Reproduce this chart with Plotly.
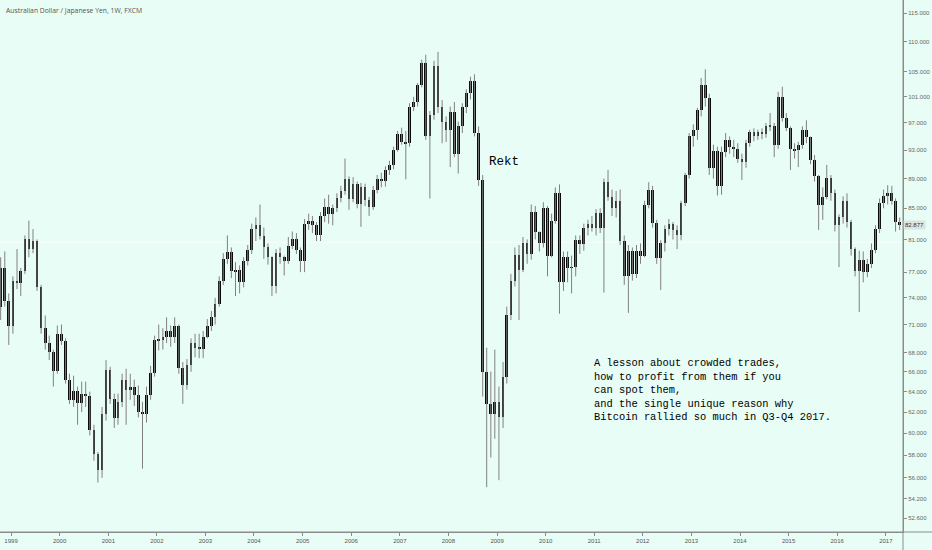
import math
import plotly.graph_objects as go

# ---- data (monthly candles), AUD/JPY ----
start_year, start_month = 1998, 10
first_open = 73.0

close = [
    77.5, 73.6, 70.8,
    76.0, 75.7, 77.1, 81.1, 79.8, 80.8, 75.2, 70.6, 69.0, 68.0, 66.1, 70.0,
    69.2, 65.2, 63.2, 64.1, 62.9, 63.8, 63.6, 60.3, 58.1, 56.7, 61.8, 66.2,
    63.3, 61.4, 63.0, 65.2, 64.2, 64.5, 63.7, 62.0, 61.8, 63.7, 65.9, 69.3,
    69.4, 69.6, 70.3, 69.6, 70.8, 66.4, 64.7, 66.7, 69.0, 68.5, 68.4, 69.7,
    70.8, 71.8, 73.3, 76.0, 78.6, 79.5, 77.1, 77.2, 75.8, 78.4, 79.7, 82.3,
    82.8, 81.4, 80.0, 78.8, 75.4, 79.3, 78.8, 78.3, 80.2, 81.1, 79.7, 78.4,
    83.0, 83.3, 82.8, 81.6, 84.0, 85.2, 84.2, 85.0, 86.3, 87.3, 89.0, 86.2,
    88.2, 85.6, 87.8, 86.1, 85.2, 87.5, 88.9, 88.7, 90.2, 90.9, 93.0, 95.3,
    94.2, 94.0, 99.5, 100.2, 102.8, 106.5, 95.0, 98.2, 106.0, 99.5, 97.1, 96.0,
    98.7, 92.5, 96.6, 99.4, 101.6, 103.5, 95.5, 88.8, 66.0, 62.8, 61.8, 63.0,
    61.5, 65.5, 72.1, 76.0, 79.1, 77.2, 80.5, 79.2, 84.5, 82.0, 80.6, 85.0,
    79.0, 83.3, 87.0, 75.8, 78.8, 77.5, 77.6, 80.9, 80.4, 82.5, 82.9, 82.5,
    84.4, 82.5, 88.5, 86.5, 85.0, 85.9, 80.8, 76.5, 79.6, 76.8, 79.6, 79.0,
    85.4, 87.4, 83.1, 78.7, 80.6, 82.3, 82.9, 82.2, 81.5, 85.7, 89.5, 95.0,
    95.9, 98.9, 102.8, 100.8, 90.5, 92.9, 88.0, 92.8, 94.5, 93.5, 93.2, 91.8,
    91.3, 94.0, 95.6, 95.1, 95.7, 95.4, 96.6, 96.5, 93.7, 101.0, 97.7, 96.2,
    93.1, 93.0, 93.7, 95.9, 94.9, 91.6, 89.3, 85.4, 86.5, 89.1, 87.1, 82.8,
    83.9, 86.0, 83.2, 79.8, 77.1, 78.5, 77.0, 78.0, 79.7, 82.3, 85.7, 86.6,
    87.1, 85.9, 83.2, 82.877,
]
high = [
    78.8, 79.5, 74.5,
    76.5, 79.8, 77.5, 81.5, 83.4, 82.3, 81.0, 75.5, 72.0, 69.8, 68.3, 70.9,
    71.0, 69.5, 65.8, 65.6, 64.5, 65.0, 65.0, 64.0, 60.8, 58.3, 62.5, 67.2,
    66.5, 63.8, 63.8, 65.8, 66.3, 65.8, 65.2, 64.6, 63.0, 64.5, 66.6, 69.8,
    71.0, 70.6, 71.8, 70.9, 71.8, 71.0, 67.0, 67.3, 69.5, 70.0, 70.0, 70.3,
    71.6, 72.5, 74.0, 76.5, 79.3, 81.5, 80.0, 78.2, 77.8, 78.8, 80.3, 83.0,
    83.8, 85.5, 82.5, 80.5, 78.9, 79.8, 80.0, 79.0, 81.3, 82.0, 81.8, 80.0,
    83.6, 84.3, 84.0, 83.2, 84.5, 86.3, 86.8, 85.5, 87.0, 88.0, 91.8, 89.3,
    89.2, 88.6, 88.4, 88.3, 86.5, 88.0, 89.5, 89.8, 90.7, 91.5, 93.5, 95.8,
    96.3, 95.8, 100.0, 101.0, 103.2, 107.0, 107.8, 98.8, 106.8, 108.3, 100.5, 98.0,
    99.5, 100.2, 97.2, 100.0, 102.2, 104.2, 104.6, 96.5, 89.5, 68.5, 66.0, 68.3,
    64.5, 67.0, 73.0, 76.8, 80.0, 80.3, 81.3, 81.0, 85.5, 85.3, 82.0, 85.8,
    85.3, 84.3, 87.8, 88.2, 79.5, 79.5, 79.0, 81.5, 81.5, 83.0, 83.5, 84.0,
    84.9, 85.0, 89.0, 90.2, 87.5, 87.3, 87.5, 81.5, 80.3, 80.0, 80.3, 80.5,
    86.0, 88.5, 88.0, 83.5, 80.9, 82.8, 83.6, 83.2, 82.8, 86.0, 89.8, 95.5,
    96.8, 99.3, 104.0, 105.4, 101.5, 93.8, 93.5, 93.5, 95.5, 95.0, 94.5, 94.0,
    92.5, 94.5, 96.0, 96.2, 96.0, 96.2, 97.0, 98.5, 97.0, 101.8, 102.6, 98.5,
    96.5, 94.0, 94.2, 96.5, 97.4, 95.0, 92.3, 89.5, 87.8, 90.9, 89.5, 87.5,
    84.2, 86.6, 87.0, 83.5, 80.0, 79.6, 79.5, 78.6, 80.5, 82.8, 86.3, 87.5,
    88.1, 88.0, 86.3, 83.8,
]
low = [
    71.5, 73.0, 68.8,
    70.0, 75.0, 74.2, 76.8, 78.8, 79.3, 74.8, 70.0, 68.3, 67.2, 64.5, 65.8,
    68.8, 64.8, 62.8, 62.5, 60.8, 62.0, 62.5, 59.8, 57.5, 55.6, 56.0, 61.2,
    62.8, 60.5, 60.8, 62.5, 60.8, 63.2, 62.6, 61.5, 56.8, 61.0, 63.2, 65.5,
    68.2, 68.3, 69.0, 68.6, 69.0, 65.8, 62.8, 64.2, 66.0, 67.5, 67.4, 67.4,
    69.5, 70.3, 71.0, 73.0, 75.5, 78.0, 76.3, 74.2, 74.5, 75.2, 77.8, 79.2,
    80.8, 81.0, 78.6, 77.9, 74.2, 74.5, 78.0, 76.6, 78.0, 79.8, 79.2, 77.0,
    77.0, 82.2, 81.8, 80.8, 80.8, 83.2, 83.0, 82.8, 84.5, 85.8, 86.8, 84.8,
    85.8, 85.0, 82.6, 85.3, 84.0, 84.8, 87.0, 87.8, 87.9, 89.5, 90.3, 92.8,
    93.8, 88.9, 93.5, 98.8, 99.5, 102.5, 94.5, 86.3, 97.5, 98.5, 94.0, 94.2,
    90.6, 92.0, 89.7, 95.5, 98.5, 100.6, 95.0, 88.0, 63.5, 55.2, 57.8, 59.5,
    55.8, 60.5, 64.8, 71.5, 75.3, 71.5, 77.0, 78.0, 78.5, 81.0, 79.5, 80.0,
    76.5, 78.8, 83.0, 72.2, 74.8, 75.8, 74.5, 76.5, 79.2, 79.6, 81.5, 82.0,
    81.5, 81.8, 74.6, 86.0, 84.0, 83.8, 80.3, 75.5, 72.3, 76.0, 76.3, 78.0,
    78.8, 85.0, 82.5, 78.0, 74.9, 79.5, 81.5, 81.0, 79.8, 80.9, 85.3, 89.0,
    93.5, 94.5, 98.0, 99.5, 89.5, 89.0, 86.7, 86.8, 92.0, 92.5, 92.0, 91.2,
    88.8, 90.5, 93.5, 94.3, 94.5, 94.6, 94.8, 95.8, 92.0, 93.2, 97.2, 95.8,
    90.2, 91.8, 90.6, 93.2, 94.0, 91.0, 88.6, 82.2, 83.5, 86.2, 86.0, 82.0,
    77.6, 83.0, 82.5, 79.0, 76.5, 72.4, 75.8, 76.4, 77.5, 79.3, 81.8, 85.0,
    85.5, 85.5, 82.0, 82.2,
]

year_ticks = list(range(1999, 2018))
price_ticks = [52.6, 54.2, 56, 58, 60, 62, 64, 66, 68, 71, 74, 77, 81, 85,
               89, 93, 97, 101, 105, 110, 115]

title_text = "Australian Dollar / Japanese Yen, 1W, FXCM"
rekt_text = "Rekt"
note_lines = [
    "A lesson about crowded trades,",
    "how to profit from them if you",
    "can spot them,",
    "and the single unique reason why",
    "Bitcoin rallied so much in Q3-Q4 2017.",
]

# ---- build ----
n = len(close)
dates = []
yy, mm = start_year, start_month
for _ in range(n):
    dates.append(f"{yy:04d}-{mm:02d}-15")
    mm += 1
    if mm > 12:
        mm = 1
        yy += 1
opens = [first_open] + close[:-1]
body_lo = [min(o, c) for o, c in zip(opens, close)]
body_len = [abs(c - o) for o, c in zip(opens, close)]

wx, wy = [], []
for d, h, l in zip(dates, high, low):
    wx += [d, d, None]
    wy += [l, h, None]

BG = "rgb(232,253,245)"
AX = "#8c8c8c"
DAY_MS = 86400000

fig = go.Figure()
fig.add_trace(go.Scatter(x=wx, y=wy, mode="lines",
                         line=dict(color="#808080", width=1),
                         hoverinfo="skip", showlegend=False))
fig.add_trace(go.Bar(x=dates, y=body_len, base=body_lo,
                     width=20 * DAY_MS,
                     marker=dict(color="#0a0a0a", line=dict(width=0)),
                     showlegend=False))

lo = math.log10(51.50)
hi = math.log10(117.34)

fig.update_layout(
    width=932, height=550,
    margin=dict(l=0, r=29, t=0, b=18, autoexpand=False),
    paper_bgcolor=BG, plot_bgcolor=BG,
    showlegend=False, bargap=0,
    xaxis=dict(type="date", range=["1998-10-10", "2017-05-10"],
               tickvals=[f"{y}-01-01" for y in year_ticks],
               ticktext=[str(y) for y in year_ticks],
               ticks="outside", ticklen=3, tickcolor=AX,
               showline=True, linecolor=AX, linewidth=1,
               showgrid=False, zeroline=False,
               tickfont=dict(family="Liberation Sans", size=6, color="#555")),
    yaxis=dict(type="log", side="right", range=[lo, hi],
               tickvals=price_ticks,
               ticktext=[f"{v:.3f}" for v in price_ticks],
               ticks="outside", ticklen=3, tickcolor=AX,
               showline=True, linecolor=AX, linewidth=1,
               showgrid=False, zeroline=False,
               tickfont=dict(family="Liberation Sans", size=6, color="#666")),
)

# extended axis lines and faint level line
fig.add_shape(type="line", xref="paper", yref="paper", x0=0, x1=932 / 903,
              y0=0, y1=0, line=dict(color=AX, width=1))
fig.add_shape(type="line", xref="paper", yref="paper", x0=1, x1=1,
              y0=-18 / 532, y1=1, line=dict(color=AX, width=1))
fig.add_shape(type="line", xref="paper", yref="paper", x0=0, x1=1,
              y0=1 - 242.5 / 532, y1=1 - 242.5 / 532,
              line=dict(color="rgba(255,255,255,0.55)", width=1), layer="below")

fig.add_annotation(xref="paper", yref="paper", x=4 / 903, y=1 - 11 / 532,
                   xanchor="left", yanchor="middle", showarrow=False,
                   text=title_text,
                   font=dict(family="Open Sans", size=6.8, color="#555"))
fig.add_annotation(xref="paper", yref="paper", x=487 / 903, y=1 - 162 / 532,
                   xanchor="left", yanchor="middle", showarrow=False,
                   text=rekt_text,
                   font=dict(family="Liberation Mono", size=12.5, color="#000"))
fig.add_annotation(xref="paper", yref="paper", x=592 / 903, y=1 - 389.5 / 532,
                   xanchor="left", yanchor="middle", align="left",
                   showarrow=False, text="<br>".join(note_lines),
                   font=dict(family="Liberation Mono", size=10.4, color="#000"))
fig.add_annotation(xref="paper", yref="y", x=1, y=math.log10(close[-1]),
                   xanchor="left", yanchor="middle", showarrow=False,
                   text=f"{close[-1]:.3f}", bgcolor="rgba(215,215,215,0.7)",
                   borderpad=1,
                   font=dict(family="Liberation Sans", size=6, color="#333"))

fig.write_html("out.html",
               config={"displayModeBar": False},
               post_script="document.body.style.margin='0';"
                           "document.body.style.padding='0';"
                           "document.body.style.overflow='hidden';")
